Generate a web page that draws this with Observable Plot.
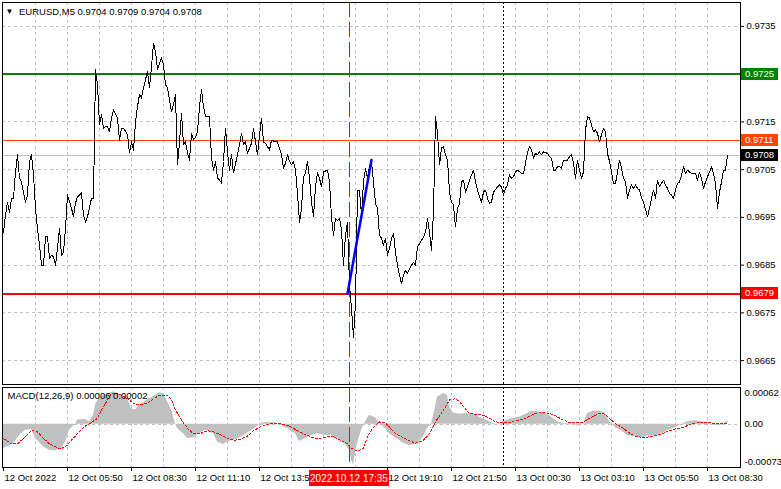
<!DOCTYPE html>
<html><head><meta charset="utf-8">
<script src="https://cdn.jsdelivr.net/npm/d3@7"></script>
<script src="https://cdn.jsdelivr.net/npm/@observablehq/plot@0.6"></script>
<style>
body{margin:0;background:#fff;}
#chart{position:relative;width:781px;height:489px;overflow:hidden;background:#fff;}
#chart svg{position:absolute;left:0;display:block;}
</style></head><body><div id="chart"></div>
<script>
// ---- data (5-minute bars counted from 12 Oct 2022 03:10) ----
const chartTitle = "EURUSD,M5 0.9704 0.9709 0.9704 0.9708";
const macdTitle = "MACD(12,26,9) 0.00006 0.00002";
const priceBars = [0,1,2,3,4,5,6,7,8,9,11,12,13,14,15,16,17,18,19,20,21,22,23,24,25,26,27,28,29,30,31,32,34,35,36,37,39,40,41,42,44,45,46,47,48,49,50,51,52,53,54,55,56,57,58,59,60,62,63,64,65,66,67,68,69,70,72,73,74,75,76,77,79,80,81,82,83,84,85,86,87,88,89,90,91,92,93,94,95,96,97,98,99,100,101,102,103,104,105,106,107,108,109,110,111,112,113,114,115,117,118,119,120,121,122,124,125,126,127,128,129,130,131,132,133,134,136,137,139,140,141,142,143,144,145,146,147,148,149,150,151,152,153,154,155,156,157,158,159,160,162,163,164,165,166,167,168,169,170,171,172,173,174,175,176,177,178,179,180,181,182,183,184,185,186,187,188,189,190,191,192,193,194,195,196,197,198,199,200,201,202,203,205,206,207,208,210,211,212,213,214,215,216,217,218,219,220,221,222,223,224,225,226,227,228,229,230,231,232,233,235,236,237,238,239,240,241,242,243,244,245,247,248,249,250,251,252,253,254,255,256,257,259,260,261,262,263,264,265,266,267,268,269,270,272,273,274,275,276,277,278,279,280,282,283,284,285,286,287,288,289,290,291,292,293,294,295,296,297,298,299,300,301,302,303,304,305,306,307,308,309,310,311,312,313,314,315,316,317,318,319,320,322,323,324,325,326,327,328,329,330,331,332,333,334,335,336,337,338,339,340,341,342,343,344,346,347,348,349,350,351,352,353,354,355,356,357,358,359,360,361,362];
const priceClose = [0.96919,0.96955,0.96982,0.96961,0.96990,0.96990,0.97045,0.97081,0.97032,0.97024,0.96982,0.96997,0.97067,0.97081,0.97039,0.96969,0.96927,0.96892,0.96850,0.96850,0.96909,0.96909,0.96864,0.96871,0.96867,0.96850,0.96885,0.96927,0.96871,0.96877,0.96927,0.96997,0.96969,0.96951,0.96980,0.96993,0.97001,0.96955,0.96940,0.96951,0.96990,0.96990,0.97259,0.97228,0.97144,0.97165,0.97137,0.97140,0.97140,0.97129,0.97158,0.97175,0.97167,0.97158,0.97112,0.97137,0.97137,0.97123,0.97085,0.97108,0.97091,0.97150,0.97182,0.97207,0.97200,0.97221,0.97256,0.97221,0.97266,0.97315,0.97297,0.97259,0.97284,0.97270,0.97228,0.97221,0.97196,0.97171,0.97186,0.97207,0.97060,0.97108,0.97168,0.97102,0.97108,0.97085,0.97070,0.97126,0.97112,0.97118,0.97129,0.97182,0.97217,0.97182,0.97161,0.97161,0.97161,0.97074,0.97049,0.97067,0.97032,0.97028,0.97022,0.97067,0.97137,0.97087,0.97049,0.97081,0.97043,0.97081,0.97102,0.97126,0.97102,0.97108,0.97084,0.97105,0.97137,0.97108,0.97081,0.97123,0.97158,0.97108,0.97105,0.97098,0.97091,0.97112,0.97108,0.97108,0.97081,0.97053,0.97063,0.97081,0.97067,0.97060,0.97067,0.97049,0.97000,0.96940,0.96969,0.97035,0.97042,0.97067,0.97032,0.96982,0.96951,0.97014,0.97045,0.97032,0.97014,0.97045,0.97049,0.97024,0.96951,0.96913,0.96948,0.96944,0.96948,0.96923,0.96850,0.96913,0.96940,0.96808,0.96759,0.96699,0.96772,0.97007,0.97007,0.96955,0.97024,0.97053,0.97032,0.97056,0.97067,0.97024,0.96979,0.96969,0.96913,0.96906,0.96892,0.96906,0.96871,0.96885,0.96906,0.96916,0.96877,0.96850,0.96829,0.96811,0.96829,0.96839,0.96833,0.96843,0.96856,0.96850,0.96888,0.96895,0.96909,0.96919,0.96948,0.96919,0.96881,0.96961,0.97161,0.97126,0.97060,0.97095,0.97098,0.97081,0.97070,0.97003,0.96982,0.96976,0.96930,0.96969,0.96979,0.97024,0.97028,0.97003,0.97014,0.97028,0.97049,0.97024,0.97007,0.96993,0.96982,0.97003,0.97007,0.96990,0.96979,0.96982,0.97003,0.97014,0.97018,0.97014,0.96997,0.97011,0.97018,0.97039,0.97032,0.97035,0.97045,0.97049,0.97042,0.97042,0.97063,0.97087,0.97098,0.97091,0.97074,0.97084,0.97081,0.97087,0.97081,0.97087,0.97084,0.97077,0.97074,0.97049,0.97049,0.97056,0.97056,0.97053,0.97070,0.97070,0.97077,0.97081,0.97063,0.97032,0.97070,0.97049,0.97032,0.97045,0.97133,0.97161,0.97158,0.97144,0.97129,0.97133,0.97126,0.97108,0.97123,0.97137,0.97129,0.97084,0.97067,0.97045,0.97021,0.97021,0.97045,0.97070,0.97053,0.97032,0.97024,0.96990,0.97007,0.97018,0.97011,0.97018,0.97011,0.97007,0.96990,0.96982,0.96951,0.96969,0.96990,0.97007,0.96990,0.97028,0.97014,0.97021,0.97028,0.97018,0.97011,0.97000,0.96997,0.96990,0.97007,0.97021,0.97024,0.97039,0.97056,0.97042,0.97049,0.97045,0.97042,0.97042,0.97028,0.97045,0.97032,0.97011,0.97024,0.97035,0.97045,0.97056,0.97042,0.97021,0.96969,0.97003,0.97024,0.97049,0.97049,0.97080];
const trendBars = [172, 184];
const trendPrice = [0.96790, 0.97070];
const resistanceLevel = 0.9725;
const markerLevel = 0.9711;
const bidLevel = 0.9708;
const supportLevel = 0.9679;
const priceTicks = [0.9665, 0.9675, 0.9685, 0.9695, 0.9705, 0.9715, 0.9725, 0.9735];
const priceTickLabels = ["0.9665", "0.9675", "0.9685", "0.9695", "0.9705", "0.9715", "", "0.9735"];
const eventBar = 173;
const eventLabel = "2022.10.12 17:35";
const dayBreakBar = 250;
const timeTickBars = [0, 32, 64, 96, 128, 192, 224, 256, 288, 320, 352];
const timeTickLabels = ["12 Oct 2022","12 Oct 05:50","12 Oct 08:30","12 Oct 11:10","12 Oct 13:50","12 Oct 19:10","12 Oct 21:50","13 Oct 00:30","13 Oct 03:10","13 Oct 05:50","13 Oct 08:30"];
const macdBars = [0,5,8,11,14,16,20,23,26,29,31,33,36,37,41,43,45,46,48,52,55,58,62,64,66,68,72,75,78,80,82,84,86,87,90,92,95,98,101,105,107,110,112,116,119,122,126,129,132,136,139,142,146,148,151,154,157,161,164,167,171,173,174,175,176,177,179,181,183,186,188,191,193,196,200,203,207,210,212,214,216,217,220,222,223,225,228,231,235,238,242,245,248,251,255,258,262,264,267,271,274,277,281,284,287,290,292,295,298,301,303,306,309,312,316,319,322,326,329,332,336,339,342,346,349,352,356,358,360,362];
const macdHist = [-0.00041,-0.00033,-0.00019,-0.00010,-0.00009,-0.00024,-0.00038,-0.00044,-0.00045,-0.00041,-0.00030,-0.00010,0.00000,0.00007,0.00008,0.00004,0.00015,0.00032,0.00046,0.00051,0.00055,0.00051,0.00043,0.00026,0.00024,0.00032,0.00041,0.00047,0.00053,0.00051,0.00038,0.00024,0.00001,-0.00007,-0.00016,-0.00024,-0.00023,-0.00016,-0.00010,-0.00016,-0.00030,-0.00034,-0.00030,-0.00026,-0.00021,-0.00015,-0.00006,0.00002,0.00003,0.00002,-0.00002,-0.00007,-0.00016,-0.00029,-0.00024,-0.00019,-0.00016,-0.00019,-0.00019,-0.00024,-0.00034,-0.00044,-0.00061,-0.00069,-0.00050,-0.00033,-0.00010,0.00004,0.00015,0.00011,0.00001,-0.00007,-0.00016,-0.00023,-0.00032,-0.00036,-0.00033,-0.00021,-0.00007,0.00001,0.00029,0.00046,0.00052,0.00049,0.00029,0.00019,0.00017,0.00018,0.00017,0.00012,0.00006,0.00001,0.00000,0.00006,0.00010,0.00012,0.00018,0.00022,0.00021,0.00018,0.00012,0.00004,0.00001,0.00002,-0.00003,0.00001,0.00018,0.00022,0.00022,0.00019,0.00004,-0.00006,-0.00011,-0.00019,-0.00021,-0.00023,-0.00020,-0.00019,-0.00016,-0.00011,-0.00006,0.00000,0.00004,0.00006,0.00004,0.00002,-0.00002,-0.00003,0.00000,0.00006];
const signalBars = [0,4,7,10,14,17,20,23,27,29,32,34,37,40,43,47,49,52,54,57,59,62,65,68,72,75,78,82,84,86,89,92,95,98,102,105,108,112,115,118,122,125,128,132,135,138,142,145,148,152,155,158,162,165,168,172,174,177,180,182,185,188,191,193,196,200,203,206,210,213,216,220,223,226,228,231,233,236,240,243,246,250,253,256,260,263,266,270,273,276,280,283,286,290,293,296,298,301,303,306,310,313,316,320,323,326,330,333,336,340,343,346,350,353,356,360,362];
const signalVals = [-0.00024,-0.00033,-0.00033,-0.00024,-0.00010,-0.00013,-0.00024,-0.00033,-0.00040,-0.00041,-0.00035,-0.00027,-0.00016,-0.00005,0.00001,0.00010,0.00024,0.00041,0.00052,0.00052,0.00049,0.00043,0.00035,0.00032,0.00036,0.00043,0.00049,0.00049,0.00041,0.00024,0.00007,-0.00007,-0.00016,-0.00016,-0.00011,-0.00013,-0.00017,-0.00024,-0.00027,-0.00026,-0.00020,-0.00011,-0.00005,0.00000,0.00001,0.00001,-0.00002,-0.00007,-0.00013,-0.00019,-0.00023,-0.00024,-0.00021,-0.00021,-0.00026,-0.00033,-0.00041,-0.00045,-0.00041,-0.00021,-0.00005,0.00004,0.00002,-0.00005,-0.00016,-0.00023,-0.00028,-0.00032,-0.00027,-0.00016,0.00004,0.00024,0.00041,0.00043,0.00038,0.00026,0.00018,0.00017,0.00015,0.00010,0.00004,0.00003,0.00003,0.00006,0.00008,0.00014,0.00018,0.00020,0.00018,0.00014,0.00007,0.00003,0.00002,0.00004,0.00010,0.00015,0.00018,0.00017,0.00010,0.00001,-0.00007,-0.00015,-0.00020,-0.00023,-0.00021,-0.00019,-0.00015,-0.00011,-0.00008,-0.00005,-0.00001,0.00002,0.00003,0.00003,0.00001,0.00001,0.00002];
const macdScaleValues = [0.00062, 0, -0.00073];
const macdScaleLabels = ["0.00062", "0.00", "-0.00073"];

// ---- drawing ----
const FONT = "'Liberation Sans', Arial, sans-serif";
const GRID = "#c0c0c0";
const CRISP = "crispEdges";
const xDomain = [-0.5, 368.5];
const fmt4 = d3.format(".4f");
const gridBars = d3.range(16, 368, 16);

function priceTags(items) {
  return (index, scales, values, dims) => {
    const g = d3.create("svg:g").attr("text-anchor", "start");
    const x0 = dims.width - dims.marginRight + 1;
    for (const [v, color] of items) {
      const y = Math.round(scales.y(v));
      g.append("rect").attr("x", x0).attr("y", y - 6).attr("width", 37).attr("height", 12)
        .attr("fill", color).attr("shape-rendering", CRISP);
      g.append("text").attr("x", x0 + 4).attr("y", y).attr("dy", "0.35em")
        .attr("fill", "#fff").attr("font-size", "9.5px").text(fmt4(v));
    }
    return g.node();
  };
}

const main = Plot.plot({
  width: 781, height: 386,
  marginTop: 2, marginBottom: 2, marginLeft: 2, marginRight: 41,
  x: {domain: xDomain, axis: null},
  y: {domain: [0.9660, 0.9740], axis: null},
  style: {fontFamily: FONT, fontSize: "9.5px", background: "transparent", overflow: "visible"},
  marks: [
    Plot.ruleX(gridBars, {stroke: GRID, strokeDasharray: "3,3", shapeRendering: CRISP}),
    Plot.ruleY(priceTicks, {stroke: GRID, strokeDasharray: "3,3", shapeRendering: CRISP}),
    Plot.ruleY([bidLevel], {stroke: "#c0c0c0", shapeRendering: CRISP}),
    Plot.ruleY([markerLevel], {stroke: "#ff4500", shapeRendering: CRISP}),
    Plot.ruleY([resistanceLevel], {stroke: "#008000", strokeWidth: 2, shapeRendering: CRISP}),
    Plot.ruleY([supportLevel], {stroke: "#ff0000", strokeWidth: 2, shapeRendering: CRISP}),
    Plot.ruleX([eventBar], {stroke: "#ff0000", strokeDasharray: "15,5", shapeRendering: CRISP}),
    Plot.ruleX([dayBreakBar], {stroke: "#000", strokeDasharray: "2,2", shapeRendering: CRISP}),
    Plot.line(priceClose, {x: priceBars, y: priceClose, stroke: "#000", strokeWidth: 1, shapeRendering: CRISP}),
    Plot.line(trendPrice, {x: trendBars, y: trendPrice, stroke: "#0000ff", strokeWidth: 2.5}),
    Plot.frame({stroke: "#000", shapeRendering: CRISP}),
    Plot.axisY({anchor: "right", ticks: priceTicks, tickFormat: (d, i) => priceTickLabels[i], tickSize: 3, tickPadding: 3, label: null}),
    priceTags([[resistanceLevel, "#008000"], [markerLevel, "#ff4500"], [bidLevel, "#000000"], [supportLevel, "#ff0000"]]),
    Plot.text(["▼"], {frameAnchor: "top-left", dx: 7, dy: 9, textAnchor: "middle", lineAnchor: "middle", fontSize: 8}),
    Plot.text([chartTitle], {frameAnchor: "top-left", dx: 16.5, dy: 9, textAnchor: "start", lineAnchor: "middle", fontSize: 9.5})
  ]
});

function eventTag(index, scales, values, dims) {
  const g = d3.create("svg:g");
  const cx = Math.round(scales.x(eventBar));
  const y0 = dims.height - dims.marginBottom + 3;
  g.append("rect").attr("x", cx - 40).attr("y", y0).attr("width", 80).attr("height", 16)
    .attr("fill", "#ff0000").attr("shape-rendering", CRISP);
  g.append("text").attr("x", cx).attr("y", y0 + 8).attr("dy", "0.35em").attr("text-anchor", "middle")
    .attr("fill", "#fff").attr("font-size", "10px").text(eventLabel);
  return g.node();
}

const macd = Plot.plot({
  width: 781, height: 103,
  marginTop: 1, marginBottom: 22, marginLeft: 2, marginRight: 41,
  x: {domain: xDomain, axis: null},
  y: {domain: [-0.00073, 0.00062], axis: null},
  style: {fontFamily: FONT, fontSize: "9.5px", background: "transparent", overflow: "visible"},
  marks: [
    Plot.ruleX(gridBars, {stroke: GRID, strokeDasharray: "3,3", shapeRendering: CRISP}),
    Plot.ruleY([0], {stroke: GRID, strokeDasharray: "3,3", shapeRendering: CRISP}),
    Plot.areaY(macdHist, {x: macdBars, y: macdHist, fill: "#c0c0c0", curve: "linear"}),
    Plot.line(signalVals, {x: signalBars, y: signalVals, stroke: "#ff0000", strokeWidth: 1, strokeDasharray: "2,2", shapeRendering: CRISP}),
    Plot.ruleX([eventBar], {stroke: "#ff0000", strokeDasharray: "15,5", shapeRendering: CRISP}),
    Plot.ruleX([dayBreakBar], {stroke: "#000", strokeDasharray: "2,2", shapeRendering: CRISP}),
    Plot.frame({stroke: "#000", shapeRendering: CRISP}),
    Plot.text([macdTitle], {frameAnchor: "top-left", dx: 5, dy: 8.5, textAnchor: "start", lineAnchor: "middle", fontSize: 9.5}),
    Plot.text([macdScaleLabels[0]], {y: [macdScaleValues[0]], frameAnchor: "right", dx: 4, dy: 1.5, textAnchor: "start", lineAnchor: "top"}),
    Plot.text([macdScaleLabels[1]], {y: [macdScaleValues[1]], frameAnchor: "right", dx: 4, textAnchor: "start", lineAnchor: "middle"}),
    Plot.text([macdScaleLabels[2]], {y: [macdScaleValues[2]], frameAnchor: "right", dx: 4, dy: -3, textAnchor: "start", lineAnchor: "bottom"}),
    Plot.axisX({ticks: timeTickBars, tickSize: 4, tickFormat: () => "", label: null}),
    Plot.text(timeTickLabels, {x: timeTickBars, frameAnchor: "bottom", dy: 10.5, dx: 1, textAnchor: "start", lineAnchor: "middle"}),
    eventTag
  ]
});

const host = document.getElementById("chart");
main.style.top = "0px";
macd.style.top = "386px";
host.appendChild(main);
host.appendChild(macd);
</script>
</body></html>
